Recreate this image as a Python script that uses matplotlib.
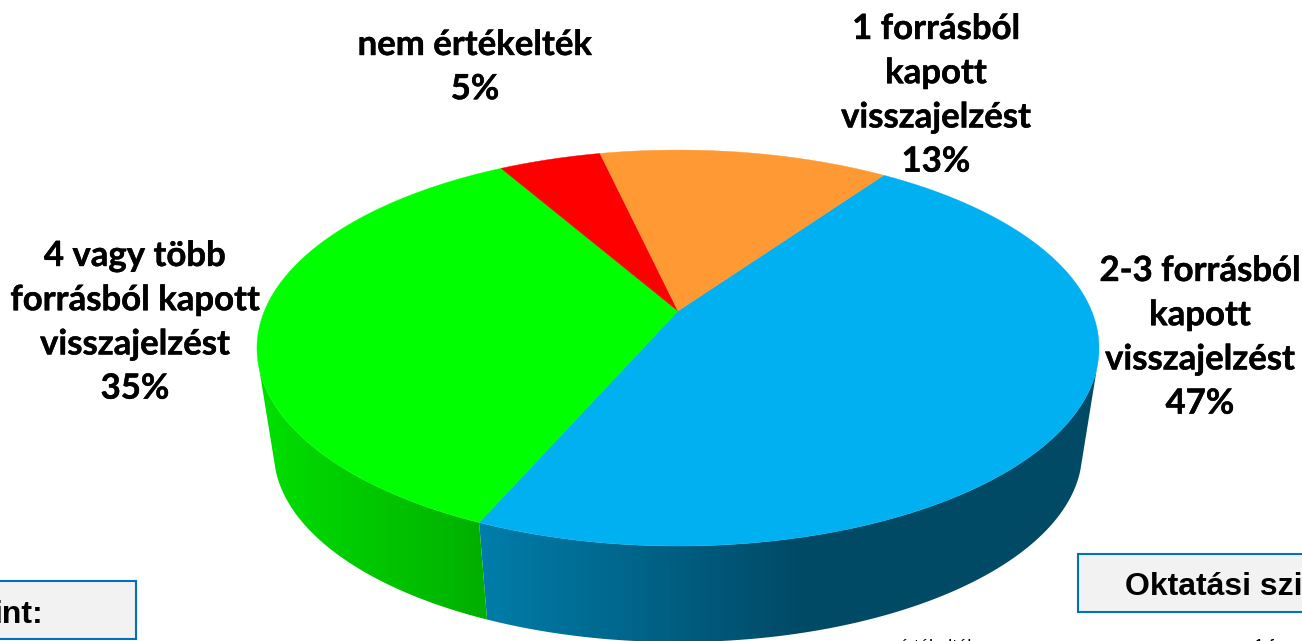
# pie chart with perspective, drawn by hand since matplotlib has no 3d pie
import matplotlib
matplotlib.use("Agg")
import matplotlib.pyplot as plt
import matplotlib.patheffects as pe
from matplotlib.patches import Polygon, Rectangle
import numpy as np

# data, values are the unrounded shares
labels = ["2-3 forrásból\nkapott\nvisszajelzést\n47%",
          "4 vagy több\nforrásból kapott\nvisszajelzést\n35%",
          "nem értékelték\n5%",
          "1 forrásból\nkapott\nvisszajelzést\n13%"]
values = [46.8, 35.2, 4.7, 13.3]
top_colors = ["#00B0F0", "#00FF00", "#FF0000", "#FF9933"]
side_left = ["#007DAA", "#00E000"]
side_right = ["#004A66", "#00B000"]
side_x0 = [482, 258]
side_x1 = [800, 482]
label_xy = [(1200, 255), (135, 240), (475, 29), (936, 13)]

# layout in pixels
W, H = 1302, 641
START = 35
CX, CY = 678, 311
PERSP = -0.187
KX, KY = 413.6, 132.9
DEPTH_Y, SCALE = 104, 0.96
MID_Y = 348
SIDE_FROM, SIDE_TO = 106, 254


def top_point(ang):
    a = np.radians(ang)
    u, v = np.sin(a), -np.cos(a)
    d = 1 + PERSP * v
    return CX + KX * u / d, (KY * v + CY) / d


def low_point(ang):
    x, y = top_point(ang)
    return CX + SCALE * (x - CX), MID_Y + DEPTH_Y + SCALE * (y - MID_Y)


fig = plt.figure(figsize=(W / 100, H / 100), dpi=100)
ax = fig.add_axes([0, 0, 1, 1])

fracs = np.array(values) / sum(values)
edges = START + 360 * np.concatenate([[0], np.cumsum(fracs)])

# side wall: gradient image clipped to the wall outline of each front slice
xs = np.arange(W) + 0.5
for i in range(2):
    a0 = max(edges[i], SIDE_FROM)
    a1 = min(edges[i + 1], SIDE_TO)
    angs = np.linspace(a0, a1, 300)
    pts = [top_point(a) for a in angs] + [low_point(a) for a in angs[::-1]]
    clip = Polygon(pts, closed=True, transform=ax.transData, fc="none", ec="none")
    ax.add_patch(clip)
    t = np.clip((xs - side_x0[i]) / (side_x1[i] - side_x0[i]), 0, 1)[None, :, None]
    left = np.array(matplotlib.colors.to_rgb(side_left[i]))[None, None, :]
    right = np.array(matplotlib.colors.to_rgb(side_right[i]))[None, None, :]
    im = ax.imshow((1 - t) * left + t * right, extent=(0, W, H, 0), aspect="auto")
    im.set_clip_path(clip)

ax.set_xlim(0, W)
ax.set_ylim(H, 0)
ax.axis("off")

# top face
for i in range(len(values)):
    angs = np.linspace(edges[i], edges[i + 1], 200)
    pts = [(CX, CY)] + [top_point(a) for a in angs]
    ax.add_patch(Polygon(pts, closed=True, fc=top_colors[i], ec=top_colors[i], lw=0.3))

# slice labels
for lab, (x, y) in zip(labels, label_xy):
    ax.text(x, y, lab, ha="center", va="top", family="Lato", weight="bold",
            fontsize=25, linespacing=1.47, color="black",
            path_effects=[pe.withStroke(linewidth=0.3, foreground="black")])

# legend boxes, cut by the picture border
ax.add_patch(Rectangle((-10, 581), 146, 58, fc="#F2F2F2", ec="#0070C0", lw=1.5))
ax.add_patch(Rectangle((1078, 554), 240, 58, fc="#F2F2F2", ec="#0070C0", lw=1.5))
ax.text(43, 623, "int:", ha="right", va="baseline", family="Liberation Sans",
        weight="bold", fontsize=23, color="black")
ax.text(1125, 595, "Oktatási szi", ha="left", va="baseline", family="Liberation Sans",
        weight="bold", fontsize=23, color="black")

# tops of the small legend text at the bottom edge
ax.text(898, 652, "értékelték", ha="left", va="baseline", family="Liberation Sans",
        fontsize=13, color="black")
ax.text(1254, 652, "1 f", ha="left", va="baseline", family="Liberation Sans",
        fontsize=13, color="black")

fig.savefig("out.png", dpi=100)
